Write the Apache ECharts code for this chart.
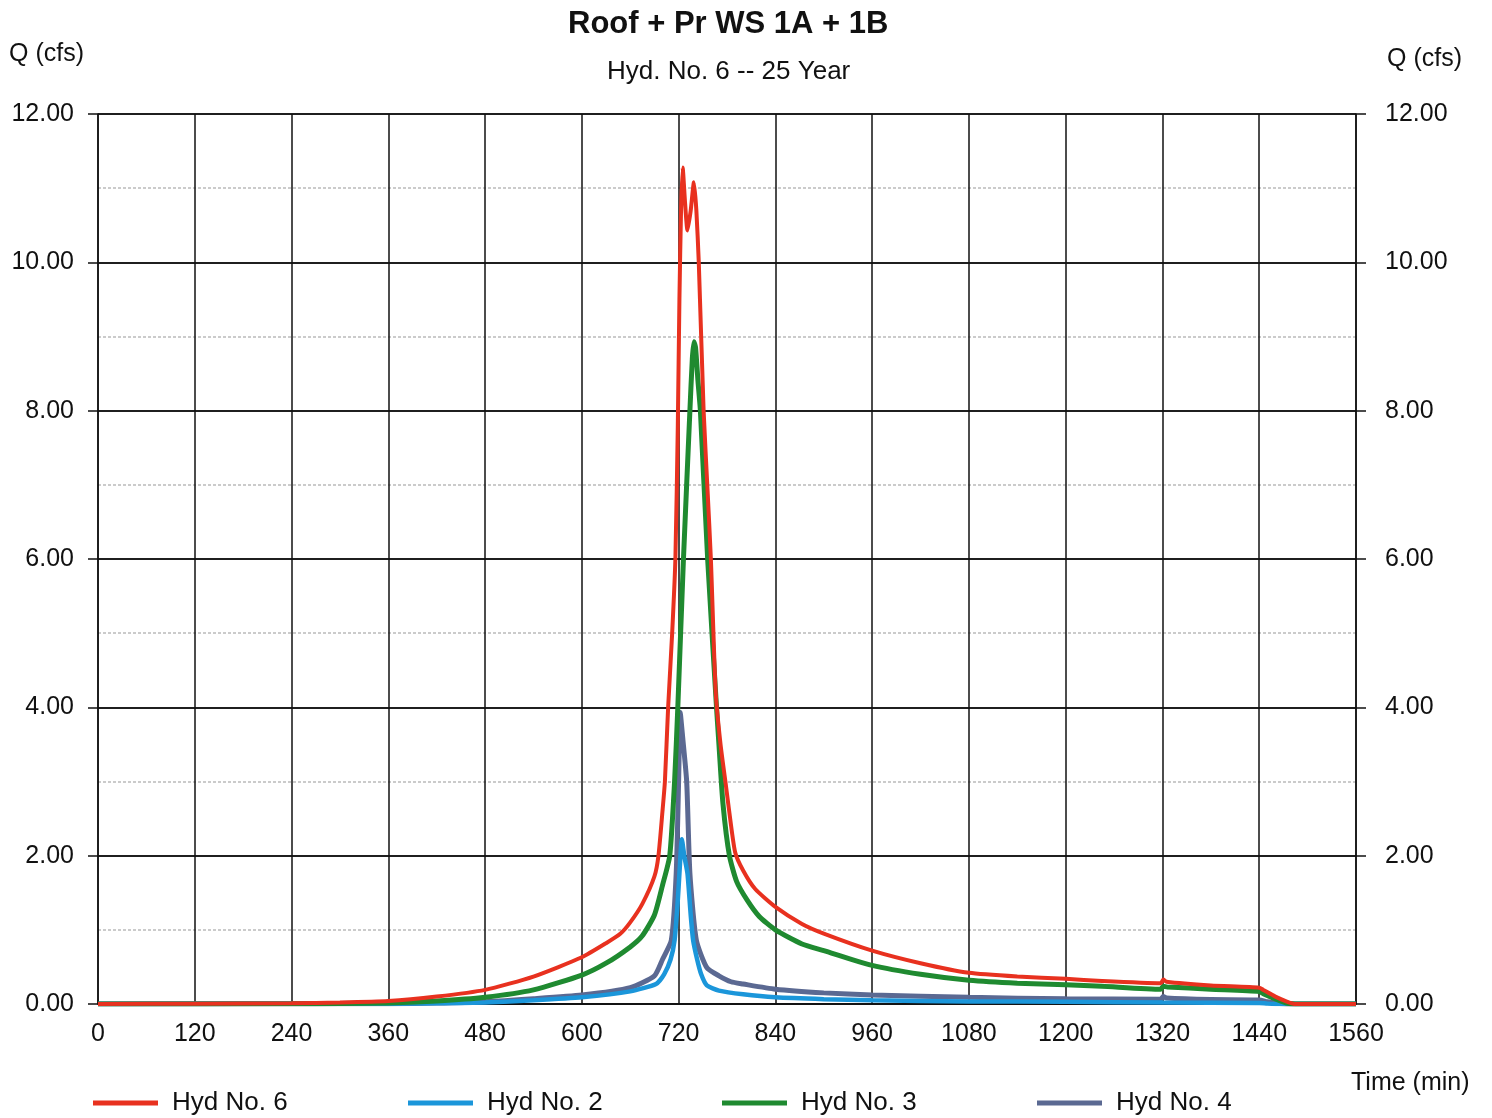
<!DOCTYPE html>
<html>
<head>
<meta charset="utf-8">
<script src="https://cdn.jsdelivr.net/npm/echarts@6/dist/echarts.min.js"></script>
<style>
  html, body { margin: 0; padding: 0; background: #fff; }
  #chart { width: 1492px; height: 1118px; }
</style>
</head>
<body>
<div id="chart"></div>
<script>
// Axis ranges and tick spacing
const timeTicks = { min: 0, max: 1560, interval: 120 };
const flowTicks = { min: 0, max: 12, interval: 2 };

// Hyd No. 6 (combined hydrograph)
const hyd6Time = [0,120,240,300,360,420,480,540,600,630,648,660,675,690,695,700,703,707,712,716,719,721,723,725,728,731,735,739,742,745,751,756,760,766,772,778,782,790,800,815,840,873,900,960,1020,1080,1140,1200,1245,1318,1321,1325,1380,1440,1445,1460,1475,1485,1560];
const hyd6Flow = [0,0.005,0.01,0.02,0.04,0.1,0.19,0.37,0.63,0.82,0.95,1.1,1.35,1.72,2.0,2.6,3.0,4.0,5.0,6.0,7.8,9.5,10.7,11.28,10.8,10.43,10.7,11.08,10.7,10.0,8.0,6.9,6.0,4.2,3.5,3.0,2.66,2.05,1.8,1.55,1.31,1.08,0.95,0.72,0.55,0.42,0.37,0.34,0.31,0.28,0.33,0.3,0.25,0.22,0.19,0.1,0.03,0,0];

// Hyd No. 2
const hyd2Time = [0,360,420,480,540,600,660,692,702,710,715,719,721,724,727,731,735,738,743,748,755,770,800,840,900,960,1080,1200,1320,1440,1450,1460,1560];
const hyd2Flow = [0,0.005,0.01,0.02,0.05,0.09,0.17,0.27,0.4,0.6,0.86,1.4,1.76,2.22,2.0,1.76,1.2,0.86,0.6,0.4,0.25,0.18,0.13,0.09,0.065,0.05,0.035,0.03,0.02,0.015,0.005,0,0];

// Hyd No. 3
const hyd3Time = [0,240,300,360,420,480,540,600,630,660,675,690,700,709,715,719,726,734,737,739,741,744,747,756,767,770,775,783,792,805,820,840,873,900,960,1020,1080,1140,1200,1245,1318,1321,1326,1380,1440,1445,1460,1475,1485,1560];
const hyd3Flow = [0,0.003,0.006,0.015,0.04,0.09,0.19,0.39,0.55,0.77,0.92,1.2,1.6,2.0,3.0,4.0,6.0,8.0,8.7,8.93,8.85,8.4,8.0,6.0,4.0,3.5,2.7,2.0,1.65,1.4,1.18,1.0,0.81,0.72,0.52,0.4,0.32,0.28,0.26,0.24,0.2,0.24,0.23,0.2,0.17,0.14,0.07,0.01,0,0];

// Hyd No. 4
const hyd4Time = [0,360,420,480,540,600,660,690,700,711,717,720,722,725,730,734,742,755,770,785,800,840,900,960,1080,1200,1318,1321,1325,1380,1440,1450,1465,1475,1560];
const hyd4Flow = [0,0.005,0.012,0.03,0.07,0.12,0.22,0.38,0.6,0.86,1.76,3.0,3.93,3.6,3.0,1.76,0.86,0.49,0.38,0.3,0.27,0.2,0.15,0.12,0.09,0.07,0.065,0.1,0.08,0.06,0.055,0.03,0.005,0,0];

const seriesNames = ['Hyd No. 6', 'Hyd No. 2', 'Hyd No. 3', 'Hyd No. 4'];
const seriesColors = ['#e8311f', '#1b96da', '#1f8a30', '#5b6992'];

const pair = (t, v) => t.map((x, i) => [x, v[i]]);
const FONT = "'Liberation Sans', Arial, sans-serif";

function lineSeries(idx, data, width) {
  return {
    name: seriesNames[idx],
    type: 'line',
    data: data,
    showSymbol: false,
    smooth: 0.2,
    lineStyle: { color: seriesColors[idx], width: width },
    itemStyle: { color: seriesColors[idx] },
    emphasis: { disabled: true },
    animation: false
  };
}

function yAxisCfg(position, margin) {
  return {
    type: 'value',
    position: position,
    min: flowTicks.min, max: flowTicks.max, interval: flowTicks.interval,
    axisLine: { show: true, lineStyle: { color: '#111', width: 1.5 } },
    axisTick: { show: true, length: 10, lineStyle: { color: '#111', width: 1.5 } },
    axisLabel: {
      margin: margin, color: '#111', fontSize: 25, fontFamily: FONT,
      formatter: v => v.toFixed(2)
    },
    splitLine: { show: true, lineStyle: { color: '#111', width: 1.5 } },
    minorTick: { show: false, splitNumber: 2 },
    minorSplitLine: { show: true, lineStyle: { color: '#c8c8c8', width: 1.5, type: [3, 2] } }
  };
}

function legendCfg(idx, left) {
  return {
    data: [seriesNames[idx]],
    left: left, top: 1090,
    padding: 0,
    icon: 'rect',
    itemWidth: 65, itemHeight: 5,
    selectedMode: false,
    textStyle: { fontSize: 26, color: '#111', fontFamily: FONT, padding: [0, 0, 0, 9] }
  };
}

const chart = echarts.init(document.getElementById('chart'), null, { renderer: 'canvas' });
chart.setOption({
  backgroundColor: '#ffffff',
  animation: false,
  title: [
    { text: 'Roof + Pr WS 1A + 1B', left: 568, top: 9, padding: 0,
      textStyle: { fontSize: 31, fontWeight: 'bold', color: '#111', fontFamily: FONT } },
    { text: 'Hyd. No. 6 -- 25 Year', left: 607, top: 59, padding: 0,
      textStyle: { fontSize: 26, fontWeight: 'normal', color: '#111', fontFamily: FONT } }
  ],
  graphic: [
    { type: 'text', left: 9, top: 42, style: { text: 'Q (cfs)', fontSize: 25, fill: '#111', fontFamily: FONT } },
    { type: 'text', left: 1387, top: 47, style: { text: 'Q (cfs)', fontSize: 25, fill: '#111', fontFamily: FONT } },
    { type: 'text', left: 1351, top: 1071, style: { text: 'Time (min)', fontSize: 25, fill: '#111', fontFamily: FONT } }
  ],
  legend: [legendCfg(0, 93), legendCfg(1, 408), legendCfg(2, 722), legendCfg(3, 1037)],
  grid: { left: 98, right: 136, top: 114, bottom: 114, containLabel: false },
  xAxis: {
    type: 'value',
    min: timeTicks.min, max: timeTicks.max, interval: timeTicks.interval,
    axisLine: { show: true, onZero: false, lineStyle: { color: '#111', width: 1.5 } },
    axisTick: { show: false },
    axisLabel: { margin: 18, color: '#111', fontSize: 25, fontFamily: FONT, formatter: v => String(v) },
    splitLine: { show: true, lineStyle: { color: '#111', width: 1.5 } }
  },
  yAxis: [yAxisCfg('left', 24), yAxisCfg('right', 29)],
  series: [
    lineSeries(3, pair(hyd4Time, hyd4Flow), 5),
    lineSeries(1, pair(hyd2Time, hyd2Flow), 4.5),
    lineSeries(2, pair(hyd3Time, hyd3Flow), 5),
    lineSeries(0, pair(hyd6Time, hyd6Flow), 4)
  ]
});
</script>
</body>
</html>
